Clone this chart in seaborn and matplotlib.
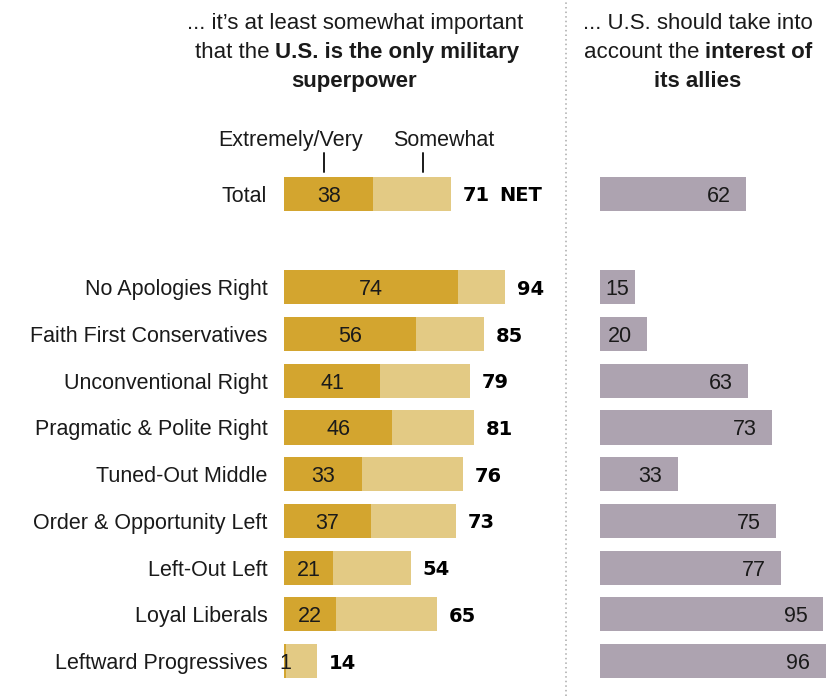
import numpy as np
import pandas as pd
import matplotlib.pyplot as plt
import seaborn as sns

# data
groups = ['Total', 'No Apologies Right', 'Faith First Conservatives', 'Unconventional Right',
          'Pragmatic & Polite Right', 'Tuned-Out Middle', 'Order & Opportunity Left',
          'Left-Out Left', 'Loyal Liberals', 'Leftward Progressives']
very_important = [38, 74, 56, 41, 46, 33, 37, 21, 22, 1]
net_important = [71, 94, 85, 79, 81, 76, 73, 54, 65, 14]
allies_interest = [62, 15, 20, 63, 73, 33, 75, 77, 95, 96]

# Total sits apart from the typology groups
row_pos = [0] + [i + 2 for i in range(len(groups) - 1)]

df = pd.DataFrame({'group': groups, 'pos': row_pos, 'very': very_important,
                   'net': net_important, 'allies': allies_interest})

dark_gold = '#D3A52F'
light_gold = '#E3CA84'
mauve = '#ADA3B0'
ink = '#1a1a1a'

sns.set_style('white')
plt.rcParams['font.family'] = ['Liberation Sans', 'DejaVu Sans']
fs = 15.5
bold_font = dict(family='DejaVu Sans', fontweight='bold', fontsize=14)

W, H = 838, 696
fig = plt.figure(figsize=(W / 100, H / 100), dpi=100)
px = 2.35  # pixels per percentage point
y_top, y_bot = 170.6, 684.4

ax_l = fig.add_axes([284 / W, 1 - y_bot / H, 110 * px / W, (y_bot - y_top) / H])
ax_r = fig.add_axes([600 / W, 1 - y_bot / H, 100 * px / W, (y_bot - y_top) / H])

bar_kw = dict(orient='h', native_scale=True, width=0.73, saturation=1, linewidth=0)
sns.barplot(data=df, x='net', y='pos', color=light_gold, ax=ax_l, **bar_kw)
sns.barplot(data=df, x='very', y='pos', color=dark_gold, ax=ax_l, **bar_kw)
sns.barplot(data=df, x='allies', y='pos', color=mauve, ax=ax_r, **bar_kw)

for ax, xmax in [(ax_l, 110), (ax_r, 100)]:
    ax.set_xlim(0, xmax)
    ax.set_ylim(10.5, -0.5)
    ax.set_xlabel('')
    ax.set_ylabel('')
    ax.set_xticks([])
    for s in ax.spines.values():
        s.set_visible(False)
    ax.patch.set_alpha(0)

ax_l.set_yticks(row_pos, labels=groups, fontsize=fs, color=ink)
ax_l.tick_params(axis='y', length=0, pad=12)
for lbl in ax_l.get_yticklabels():
    lbl.set_verticalalignment('center_baseline')
ax_r.set_yticks([])

for _, r in df.iterrows():
    ax_l.text(r['very'] / 2 if r['very'] > 3 else 0.5, r['pos'], str(r['very']),
              ha='center', va='center_baseline', fontsize=fs, color=ink)
    ax_l.text(r['net'] + 5, r['pos'], str(r['net']), ha='left', va='center_baseline',
              color='black', **bold_font)
    ax_r.text(max(r['allies'] - 6.5, 12.5), r['pos'], str(r['allies']), ha='right',
              va='center_baseline', fontsize=fs, color=ink)
ax_l.text(net_important[0] + 5 + 15.5, 0, 'NET', ha='left', va='center_baseline',
          color='black', **bold_font)

# legend labels and ticks above the Total bar
fig.text(291 / W, 1 - 138 / H, 'Extremely/Very', ha='center', va='center_baseline', fontsize=fs, color=ink)
fig.text(444 / W, 1 - 138 / H, 'Somewhat', ha='center', va='center_baseline', fontsize=fs, color=ink)
for xp in [324, 423]:
    fig.add_artist(plt.Line2D([xp / W, xp / W], [1 - 153 / H, 1 - 172 / H], color=ink, lw=1.4))

# dotted divider
fig.add_artist(plt.Line2D([566 / W, 566 / W], [0, 1], color='#aaaaaa', lw=1.1, ls=(0, (1, 2))))

# headers with mixed weights
renderer = fig.canvas.get_renderer()


def header_line(parts, cx, cy):
    texts = []
    total = 0
    for s, w in parts:
        t = fig.text(0, 1 - cy / H, s, fontsize=16, fontweight=w, color=ink,
                     ha='left', va='center_baseline')
        wpx = t.get_window_extent(renderer).width
        texts.append((t, wpx))
        total += wpx
    x = cx - total / 2
    for t, wpx in texts:
        t.set_x(x / W)
        x += wpx


header_line([('... it\u2019s at least somewhat important', 'normal')], 355, 21)
header_line([('that the ', 'normal'), ('U.S. is the only military', 'bold')], 357, 50)
header_line([('superpower', 'bold')], 354, 79)
header_line([('... U.S. should take into', 'normal')], 698, 21)
header_line([('account the ', 'normal'), ('interest of', 'bold')], 698, 50)
header_line([('its allies', 'bold')], 698, 79)

fig.savefig('out.png', dpi=100)
